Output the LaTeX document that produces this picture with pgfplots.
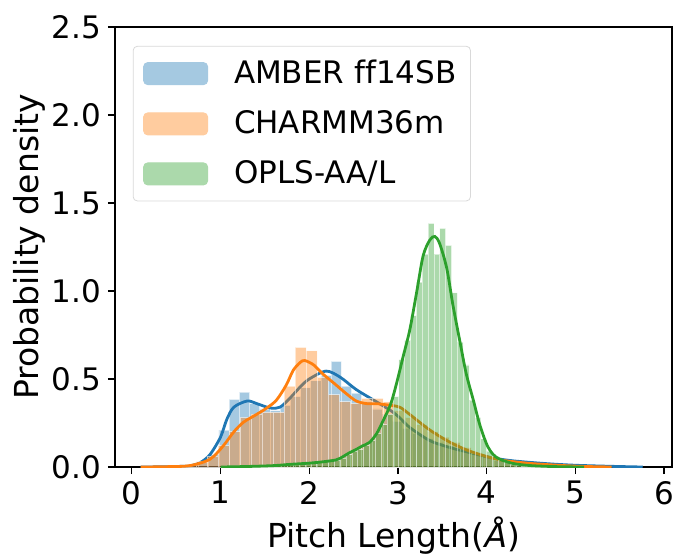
\documentclass[border=0pt]{standalone}
\usepackage{fontspec}
\setmainfont{DejaVu Sans}[Ligatures=NoCommon]
\usepackage{pgfplots}
\pgfplotsset{compat=1.18}

\definecolor{tabblue}{HTML}{1F77B4}
\definecolor{taborange}{HTML}{FF7F0E}
\definecolor{tabgreen}{HTML}{2CA02C}
\definecolor{lgblue}{HTML}{A5C9E1}
\definecolor{lgorange}{HTML}{FFCC9F}
\definecolor{lggreen}{HTML}{ABD9AB}

\newcommand\tfont{\fontsize{15.5}{18}\selectfont}
\newcommand\lfont{\fontsize{16.5}{19}\selectfont}

\pgfplotsset{
  hist/.style={ybar interval, fill=#1, fill opacity=0.4, draw=white,
    draw opacity=0.55, line width=0.4pt, forget plot},
  kde/.style={#1, line width=1.4pt, smooth, tension=0.5, forget plot, mark=none},
}

\begin{document}
\begin{tikzpicture}
\path[use as bounding box] (-57.5pt,-43.5pt) rectangle (281.5pt,233.5pt);
\begin{axis}[
  at={(0pt,0pt)}, anchor=south west,
  scale only axis, width=278.5pt, height=220pt,
  xmin=-0.19, xmax=6.09, ymin=0, ymax=2.5,
  xtick={0,1,2,3,4,5,6},
  ytick={0,0.5,1,1.5,2,2.5},
  yticklabel style={/pgf/number format/fixed, /pgf/number format/fixed zerofill,
    /pgf/number format/precision=1},
  /pgf/number format/assume math mode=true,
  tick label style={font=\tfont},
  label style={font=\lfont},
  tick align=outside, tick pos=left, major tick length=3.5pt,
  tick style={line width=0.6pt, black},
  axis line style={line width=0.6pt},
  xlabel={Pitch Length(\textit{Å})},
  ylabel={Probability density},
  ylabel shift=-3.5pt, xlabel shift=-0.5pt,
  legend cell align=left,
  legend style={at={(0.032,0.957)}, anchor=north west, font=\tfont,
    draw=black!15, rounded corners=2pt, fill=white,
    inner xsep=5pt, inner ysep=5pt, column sep=11pt, row sep=8pt},
]

% AMBER ff14SB
\addplot[hist=tabblue] coordinates {
(0.292,0.002)(0.407,0.003)(0.522,0.005)(0.637,0.010)(0.752,0.025)(0.867,0.070)
(0.982,0.210)(1.097,0.385)(1.212,0.425)(1.327,0.360)(1.442,0.330)(1.557,0.320)
(1.672,0.350)(1.787,0.400)(1.902,0.450)(2.017,0.490)(2.132,0.520)(2.247,0.600)
(2.362,0.460)(2.477,0.420)(2.592,0.370)(2.707,0.330)(2.822,0.300)(2.937,0.260)
(3.052,0.220)(3.167,0.190)(3.282,0.160)(3.397,0.140)(3.512,0.120)(3.627,0.100)
(3.742,0.090)(3.857,0.070)(3.972,0.055)(4.087,0.045)(4.202,0.035)(4.317,0.028)
(4.432,0.022)(4.547,0.018)(4.662,0.015)(4.777,0.012)(4.892,0.009)(5.007,0.006)
(5.122,0.004)(5.237,0.002)(5.352,0)
};
\addplot[kde=tabblue] coordinates {
(0.10,0.000)(0.30,0.001)(0.50,0.003)(0.654,0.007)(0.77,0.025)(0.88,0.070)
(1.00,0.170)(1.07,0.270)(1.15,0.340)(1.30,0.375)(1.41,0.360)(1.56,0.335)
(1.67,0.340)(1.78,0.390)(1.90,0.456)(2.00,0.500)(2.19,0.545)(2.35,0.510)
(2.53,0.440)(2.76,0.370)(2.92,0.320)(3.02,0.280)(3.13,0.226)(3.36,0.150)
(3.59,0.110)(3.81,0.082)(4.04,0.054)(4.30,0.035)(4.68,0.019)(5.00,0.010)
(5.40,0.004)(5.76,0.000)
};

% CHARMM36m
\addplot[hist=taborange] coordinates {
(0.105,0.002)(0.229,0.002)(0.353,0.004)(0.477,0.008)(0.601,0.015)(0.725,0.030)
(0.849,0.060)(0.973,0.120)(1.097,0.200)(1.221,0.280)(1.345,0.300)(1.469,0.310)
(1.593,0.310)(1.717,0.460)(1.841,0.680)(1.965,0.660)(2.089,0.510)(2.213,0.410)
(2.337,0.370)(2.461,0.360)(2.585,0.390)(2.709,0.390)(2.833,0.370)(2.957,0.320)
(3.081,0.280)(3.205,0.240)(3.329,0.200)(3.453,0.170)(3.577,0.140)(3.701,0.110)
(3.825,0.080)(3.949,0.060)(4.073,0.040)(4.197,0.030)(4.321,0.020)(4.445,0.012)
(4.569,0.008)(4.693,0.005)(4.817,0.003)(4.941,0.002)(5.065,0)
};
\addplot[kde=taborange] coordinates {
(0.10,0.000)(0.40,0.002)(0.654,0.008)(0.88,0.044)(1.03,0.120)(1.15,0.200)
(1.26,0.255)(1.41,0.300)(1.52,0.335)(1.63,0.380)(1.74,0.465)(1.82,0.550)
(1.90,0.595)(1.95,0.605)(2.05,0.580)(2.15,0.530)(2.27,0.480)(2.41,0.420)
(2.53,0.375)(2.65,0.360)(2.76,0.360)(2.92,0.350)(3.02,0.340)(3.13,0.300)
(3.36,0.210)(3.59,0.140)(3.81,0.090)(4.04,0.054)(4.15,0.040)(4.50,0.020)
(5.00,0.005)(5.41,0.000)
};

% OPLS-AA/L
\addplot[hist=tabgreen] coordinates {
(1.030,0.003)(1.096,0.003)(1.162,0.005)(1.228,0.005)(1.294,0.006)(1.360,0.007)
(1.426,0.008)(1.492,0.010)(1.558,0.010)(1.624,0.012)(1.690,0.013)(1.756,0.015)
(1.822,0.016)(1.888,0.018)(1.954,0.020)(2.020,0.022)(2.086,0.025)(2.152,0.030)
(2.218,0.035)(2.284,0.040)(2.350,0.050)(2.416,0.070)(2.482,0.090)(2.548,0.100)
(2.614,0.120)(2.680,0.150)(2.746,0.190)(2.812,0.240)(2.878,0.300)(2.944,0.400)
(3.010,0.610)(3.076,0.720)(3.142,0.860)(3.208,1.050)(3.274,1.210)(3.340,1.385)
(3.406,1.210)(3.472,1.356)(3.538,1.260)(3.604,0.990)(3.670,0.710)(3.736,0.580)
(3.802,0.380)(3.868,0.280)(3.934,0.160)(4.000,0.090)(4.066,0.060)(4.132,0.040)
(4.198,0.025)(4.264,0.015)(4.330,0.010)(4.396,0.006)(4.462,0.004)(4.528,0.003)
(4.594,0.002)(4.660,0)
};
\addplot[kde=tabgreen] coordinates {
(1.00,0.000)(1.30,0.003)(1.60,0.008)(1.78,0.015)(2.00,0.022)(2.16,0.030)
(2.30,0.040)(2.35,0.050)(2.45,0.080)(2.53,0.100)(2.60,0.120)(2.68,0.140)
(2.76,0.190)(2.83,0.260)(2.92,0.360)(2.994,0.494)(3.06,0.630)(3.134,0.780)
(3.21,0.990)(3.284,1.200)(3.36,1.290)(3.416,1.310)(3.47,1.270)(3.55,1.130)
(3.62,0.920)(3.70,0.710)(3.77,0.530)(3.85,0.380)(3.92,0.245)(4.00,0.130)
(4.07,0.073)(4.15,0.044)(4.30,0.020)(4.50,0.008)(4.80,0.002)(5.10,0.000)
};

\addlegendimage{legend image code/.code={\fill[lgblue] (0pt,-5.5pt) rectangle (32pt,5.5pt);}}
\addlegendentry{AMBER ff14SB}
\addlegendimage{legend image code/.code={\fill[lgorange] (0pt,-5.5pt) rectangle (32pt,5.5pt);}}
\addlegendentry{CHARMM36m}
\addlegendimage{legend image code/.code={\fill[lggreen] (0pt,-5.5pt) rectangle (32pt,5.5pt);}}
\addlegendentry{OPLS-AA/L}
\end{axis}
\end{tikzpicture}
\end{document}
